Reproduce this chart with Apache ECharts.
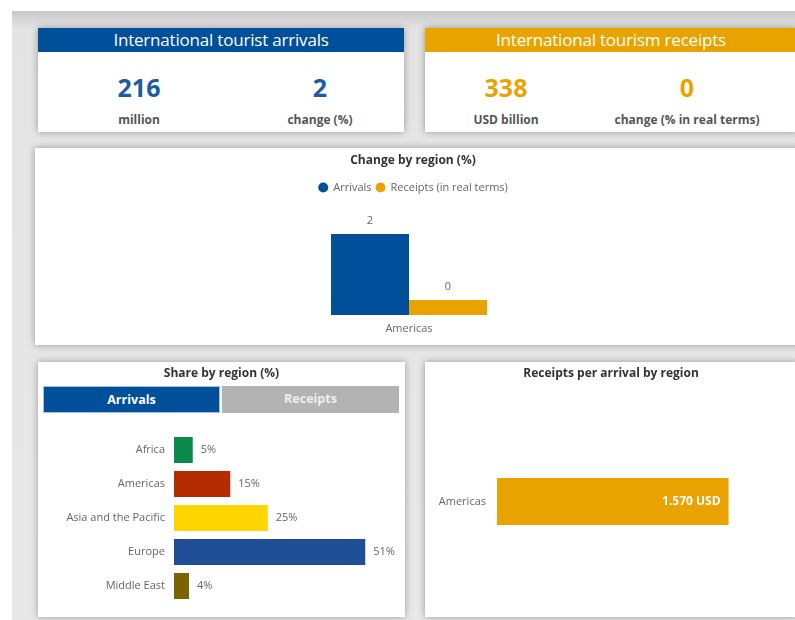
<!DOCTYPE html>
<html>
<head>
<meta charset="utf-8">
<script src="https://cdn.jsdelivr.net/npm/echarts@6/dist/echarts.min.js"></script>
<style>
  html, body { margin: 0; padding: 0; background: #fff; font-family: "Open Sans", sans-serif; }
  #page { position: absolute; left: 12px; top: 11px; width: 783px; height: 609px;
          background: linear-gradient(#c9c9c9, #e4e4e4 18px, #e8e8e8); overflow: hidden; }
  .panel { position: absolute; background: #fff; box-shadow: 0 0 7px rgba(0,0,0,0.35); }
  .head { position: absolute; left: 0; top: 0; right: 0; height: 24px; line-height: 24px;
          color: #fff; text-align: center; font-size: 17px; letter-spacing: -0.2px; }
  .kpi { position: absolute; width: 200px; margin-left: -100px; text-align: center; }
  .kpi .v { font-size: 25px; font-weight: bold; line-height: 30px; }
  .kpi .l { font-size: 12px; font-weight: bold; color: #555; margin-top: 9px; }
  .btn { position: absolute; top: 24px; height: 27px; line-height: 26px; text-align: center;
         font-size: 12.5px; font-weight: bold; color: #fff; box-sizing: border-box; }
  .chart { position: absolute; left: 0; top: 0; width: 100%; height: 100%; }
</style>
</head>
<body>
<div id="page">
  <div class="panel" style="left:26px;top:17px;width:366px;height:104px;">
    <div class="head" style="background:#004f9a;">International tourist arrivals</div>
    <div class="kpi" style="left:101px;top:44px;"><div class="v" style="color:#1d5aa3;" id="arrVal"></div><div class="l">million</div></div>
    <div class="kpi" style="left:282px;top:44px;"><div class="v" style="color:#1d5aa3;" id="arrChg"></div><div class="l">change (%)</div></div>
  </div>
  <div class="panel" style="left:413px;top:17px;width:372px;height:104px;">
    <div class="head" style="background:#e9a300;">International tourism receipts</div>
    <div class="kpi" style="left:81px;top:44px;"><div class="v" style="color:#e9a300;" id="recVal"></div><div class="l">USD billion</div></div>
    <div class="kpi" style="left:262px;top:44px;"><div class="v" style="color:#e9a300;" id="recChg"></div><div class="l">change (% in real terms)</div></div>
  </div>
  <div class="panel" style="left:23px;top:137px;width:772px;height:197px;">
    <div class="chart" id="changeChart" style="width:756px;"></div>
  </div>
  <div class="panel" style="left:26px;top:351px;width:367px;height:255px;">
    <div class="chart" id="shareChart"></div>
    <div class="btn" style="left:5px;width:177px;background:#004f9a;border:1px solid #9ec0e6;">Arrivals</div>
    <div class="btn" style="left:184px;width:177px;background:#b3b3b3;color:#eee;">Receipts</div>
  </div>
  <div class="panel" style="left:413px;top:351px;width:372px;height:255px;">
    <div class="chart" id="perArrChart"></div>
  </div>
</div>
<script>
// headline numbers
var arrivalsMillion = 216;
var arrivalsChange = 2;
var receiptsBillion = 338;
var receiptsChange = 0;

// change by region (%)
var changeRegions = ['Americas'];
var changeArrivals = [2];
var changeReceipts = [0.37];

// share by region (%)
var shareRegions = ['Africa', 'Americas', 'Asia and the Pacific', 'Europe', 'Middle East'];
var shareValues = [5, 15, 25, 51, 4];
var shareColors = ['#0b8a4b', '#b52c00', '#ffd500', '#1f4e96', '#7b6400'];

// receipts per arrival (USD)
var perArrRegions = ['Americas'];
var perArrValues = [1570];

document.getElementById('arrVal').textContent = arrivalsMillion;
document.getElementById('arrChg').textContent = arrivalsChange;
document.getElementById('recVal').textContent = receiptsBillion;
document.getElementById('recChg').textContent = receiptsChange;

var font = '"Open Sans", sans-serif';
var titleStyle = { fontSize: 12, fontWeight: 'bold', color: '#333', fontFamily: font };

var changeChart = echarts.init(document.getElementById('changeChart'));
changeChart.setOption({
  animation: false,
  title: { text: 'Change by region (%)', left: 'center', top: 2, textStyle: titleStyle },
  legend: {
    top: 29, left: 'center', icon: 'circle', itemWidth: 10, itemHeight: 10, itemGap: 4,
    textStyle: { color: '#666', fontSize: 11, fontFamily: font }
  },
  grid: { left: 0, right: 8, top: 86, bottom: 30 },
  xAxis: {
    type: 'category', data: changeRegions,
    axisLine: { show: false }, axisTick: { show: false },
    axisLabel: { color: '#666', fontSize: 11, fontFamily: font, margin: 8 }
  },
  yAxis: { type: 'value', min: 0, max: 2, show: false, splitLine: { show: false } },
  series: [
    { name: 'Arrivals', type: 'bar', data: changeArrivals, barWidth: 78, barGap: '0%',
      itemStyle: { color: '#004f9a' },
      label: { show: true, position: 'top', distance: 8, color: '#666', fontSize: 11, fontFamily: font,
               formatter: function (p) { return Math.round(p.value); } } },
    { name: 'Receipts (in real terms)', type: 'bar', data: changeReceipts, barWidth: 78,
      itemStyle: { color: '#e9a300' },
      label: { show: true, position: 'top', distance: 8, color: '#666', fontSize: 11, fontFamily: font,
               formatter: function (p) { return Math.round(p.value); } } }
  ]
});

var shareChart = echarts.init(document.getElementById('shareChart'));
shareChart.setOption({
  animation: false,
  title: { text: 'Share by region (%)', left: 'center', top: 1, textStyle: titleStyle },
  grid: { left: 136, right: 6, top: 71, bottom: 14 },
  xAxis: { type: 'value', min: 0, max: 60, show: false, splitLine: { show: false } },
  yAxis: {
    type: 'category', data: shareRegions, inverse: true,
    axisLine: { show: false }, axisTick: { show: false },
    axisLabel: { color: '#666', fontSize: 11, fontFamily: font, margin: 9 }
  },
  series: [{
    type: 'bar', barWidth: 26,
    data: shareValues.map(function (v, i) { return { value: v, itemStyle: { color: shareColors[i] } }; }),
    label: { show: true, position: 'right', distance: 8, color: '#666', fontSize: 11, fontFamily: font,
             formatter: '{c}%' }
  }]
});

var perArrChart = echarts.init(document.getElementById('perArrChart'));
perArrChart.setOption({
  animation: false,
  title: { text: 'Receipts per arrival by region', left: 'center', top: 1, textStyle: titleStyle },
  grid: { left: 72, right: 5, top: 40, bottom: 16 },
  xAxis: { type: 'value', min: 0, max: 2000, show: false, splitLine: { show: false } },
  yAxis: {
    type: 'category', data: perArrRegions,
    axisLine: { show: false }, axisTick: { show: false },
    axisLabel: { color: '#666', fontSize: 11, fontFamily: font, margin: 11 }
  },
  series: [{
    type: 'bar', barWidth: 47, data: perArrValues,
    itemStyle: { color: '#e9a300' },
    label: { show: true, position: 'insideRight', distance: 8, color: '#fff', fontSize: 12,
             fontWeight: 'bold', fontFamily: font,
             formatter: function (p) { return String(p.value).replace(/\B(?=(\d{3})+(?!\d))/g, '.') + ' USD'; } }
  }]
});
</script>
</body>
</html>
